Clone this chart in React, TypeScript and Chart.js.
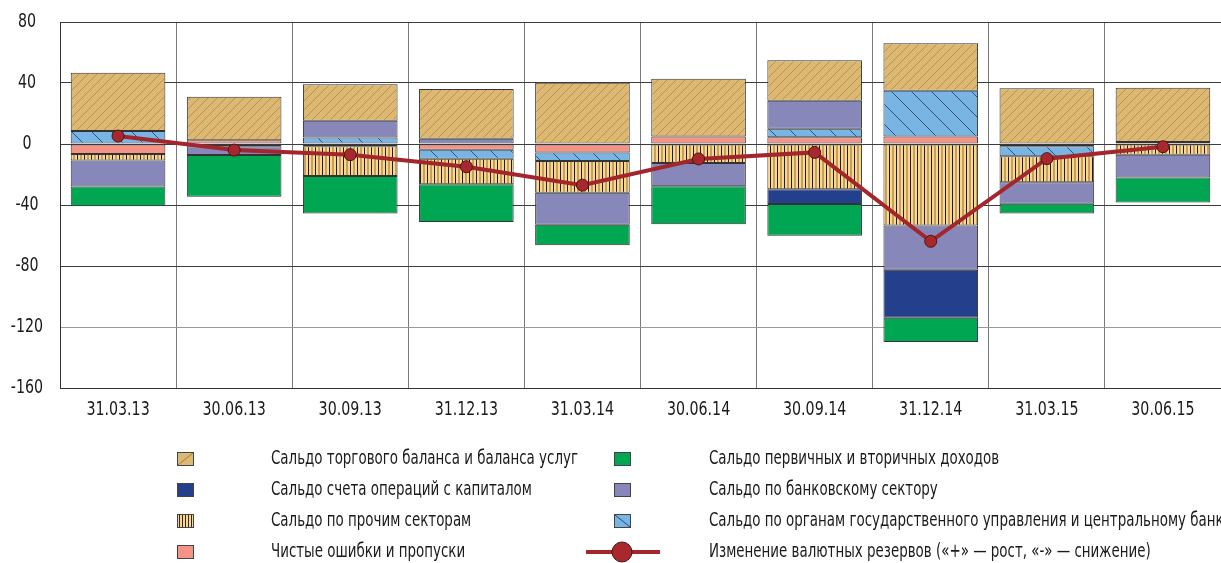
import { useEffect, useRef } from 'react';
import { Chart, registerables } from 'chart.js';

Chart.register(...registerables);

const categories = ['31.03.13', '30.06.13', '30.09.13', '31.12.13', '31.03.14', '30.06.14', '30.09.14', '31.12.14', '31.03.15', '30.06.15'];

// stacking order from zero outward follows dataset order
const errorsOmissions = [-6.5, 2.5, -1.5, -3.7, -5.6, 5.0, 4.4, 5.0, -1.5, 1.3];
const govCentralBank = [8.5, null, 4.2, -5.9, -5.5, null, 5.6, 29.9, -6.6, null];
const otherSectors = [-4.4, -1.5, -19.5, -16.8, -20.8, -12.5, -29.7, -53.5, -16.9, -7.0];
const bankingSector = [-17.0, -5.7, 11.1, 3.5, -21.0, -15.2, 18.3, -28.9, -14.1, -15.0];
const capitalAccount = [null, null, null, null, null, null, -9.6, -31.5, null, null];
const incomeBalance = [-13.0, -27.4, -24.6, -24.7, -13.5, -25.0, -20.8, -16.0, -6.5, -16.4];
const tradeBalance = [38.3, 28.5, 23.8, 32.6, 40.2, 37.8, 26.7, 31.1, 36.5, 35.6];
const reserveChange = [5.2, -4.0, -7.0, -14.9, -27.0, -9.8, -5.5, -63.8, -9.6, -1.8];

const yTicks = [80, 40, 0, -40, -80, -120, -160];

const labelTrade = 'Сальдо торгового баланса и баланса услуг';
const labelCapital = 'Сальдо счета операций с капиталом';
const labelOther = 'Сальдо по прочим секторам';
const labelErrors = 'Чистые ошибки и пропуски';
const labelIncome = 'Сальдо первичных и вторичных доходов';
const labelBank = 'Сальдо по банковскому сектору';
const labelGov = 'Сальдо по органам государственного управления и центральному банку';
const labelReserve = 'Изменение валютных резервов («+» — рост, «-» — снижение)';

const FONT = '"DejaVu Sans Condensed", "Liberation Sans Narrow", sans-serif';

const C_TRADE = '#dcb873';
const C_CAPITAL = '#243f8c';
const C_OTHER = '#fbd68b';
const C_ERRORS = '#f59486';
const C_INCOME = '#00a651';
const C_BANK = '#8787ba';
const C_GOV = '#78b5e4';
const C_LINE = '#a3262d';
const C_BORDER = '#333333';
const C_TEXT = '#1a1a1a';

function tile(w: number, h: number, draw: (c: CanvasRenderingContext2D) => void) {
  const cv = document.createElement('canvas');
  cv.width = w;
  cv.height = h;
  const c = cv.getContext('2d')!;
  draw(c);
  return cv;
}

function makePatterns(ctx: CanvasRenderingContext2D) {
  const trade = tile(9, 9, (c) => {
    c.fillStyle = C_TRADE;
    c.fillRect(0, 0, 9, 9);
    c.strokeStyle = 'rgba(150,110,50,0.5)';
    c.lineWidth = 1;
    c.beginPath();
    c.moveTo(-1, 10);
    c.lineTo(10, -1);
    c.stroke();
  });
  const other = tile(7, 4, (c) => {
    c.fillStyle = C_OTHER;
    c.fillRect(0, 0, 7, 4);
    c.fillStyle = '#1e1e1e';
    c.fillRect(0, 0, 1, 4);
    c.fillStyle = '#8a6a34';
    c.fillRect(3.5, 0, 1, 4);
  });
  const gov = tile(20, 20, (c) => {
    c.fillStyle = C_GOV;
    c.fillRect(0, 0, 20, 20);
    c.strokeStyle = '#2c4663';
    c.lineWidth = 0.9;
    c.beginPath();
    c.moveTo(-1, -1);
    c.lineTo(21, 21);
    c.stroke();
  });
  return {
    trade: ctx.createPattern(trade, 'repeat')!,
    other: ctx.createPattern(other, 'repeat')!,
    gov: ctx.createPattern(gov, 'repeat')!,
  };
}

function narrowText(c: CanvasRenderingContext2D, text: string, x: number, y: number, sx: number) {
  c.save();
  c.translate(x, y);
  c.scale(sx, 1);
  c.fillText(text, 0, 0);
  c.restore();
}

export default function App() {
  const ref = useRef<HTMLCanvasElement | null>(null);

  useEffect(() => {
    const canvas = ref.current!;
    const ctx = canvas.getContext('2d')!;
    const pats = makePatterns(ctx);

    const tickPlugin = {
      id: 'condensedTicks',
      afterDraw(chart: any) {
        const c: CanvasRenderingContext2D = chart.ctx;
        const xs = chart.scales.x;
        const ys = chart.scales.y;
        c.save();
        c.fillStyle = C_TEXT;
        c.font = `20px ${FONT}`;
        c.textBaseline = 'middle';
        c.textAlign = 'center';
        xs.ticks.forEach((t: any, i: number) => {
          narrowText(c, String(xs.getLabelForValue(t.value)), xs.getPixelForTick(i), 410, 0.79);
        });
        ys.ticks.forEach((t: any) => {
          narrowText(c, String(t.value), 27, ys.getPixelForValue(t.value), 0.79);
        });
        c.restore();
      },
    };

    const legendPlugin = {
      id: 'customLegend',
      afterDraw(chart: any) {
        const c: CanvasRenderingContext2D = chart.ctx;
        const rows = [459, 490, 521, 552];
        const col1Box = 177;
        const col1Text = 271;
        const col2Box = 614;
        const col2Text = 709;
        const bw = 17;
        const bh = 14;
        c.save();
        const box = (x: number, y: number, fill: any, extra?: (x: number, y: number) => void) => {
          c.fillStyle = fill;
          c.fillRect(x, y - bh / 2, bw, bh);
          if (extra) extra(x, y - bh / 2);
          c.strokeStyle = '#444';
          c.lineWidth = 1;
          c.strokeRect(x + 0.5, y - bh / 2 + 0.5, bw - 1, bh - 1);
        };
        box(col1Box, rows[0], C_TRADE, (x, y) => {
          c.strokeStyle = 'rgba(140,100,40,0.7)';
          c.lineWidth = 1;
          c.beginPath();
          c.moveTo(x + 1, y + bh - 1);
          c.lineTo(x + bw - 1, y + 1);
          c.stroke();
        });
        box(col1Box, rows[1], C_CAPITAL);
        box(col1Box, rows[2], C_OTHER, (x, y) => {
          c.fillStyle = '#2a2a2a';
          for (let i = 2; i < bw - 1; i += 3) c.fillRect(x + i, y, 1, bh);
        });
        box(col1Box, rows[3], C_ERRORS);
        box(col2Box, rows[0], C_INCOME);
        box(col2Box, rows[1], C_BANK);
        box(col2Box, rows[2], C_GOV, (x, y) => {
          c.strokeStyle = '#2c4663';
          c.lineWidth = 1;
          c.beginPath();
          c.moveTo(x + 1, y + 1);
          c.lineTo(x + bw - 1, y + bh - 1);
          c.stroke();
        });
        // line marker
        c.strokeStyle = C_LINE;
        c.lineWidth = 4;
        c.beginPath();
        c.moveTo(586, rows[3]);
        c.lineTo(660, rows[3]);
        c.stroke();
        c.beginPath();
        c.arc(622, rows[3], 10, 0, Math.PI * 2);
        c.fillStyle = '#a8282e';
        c.fill();
        c.lineWidth = 1;
        c.strokeStyle = '#4a1515';
        c.stroke();

        c.fillStyle = C_TEXT;
        c.font = `19px ${FONT}`;
        c.textBaseline = 'middle';
        c.textAlign = 'left';
        const sx = 0.785;
        narrowText(c, labelTrade, col1Text, rows[0], sx);
        narrowText(c, labelCapital, col1Text, rows[1], sx);
        narrowText(c, labelOther, col1Text, rows[2], sx);
        narrowText(c, labelErrors, col1Text, rows[3], sx);
        narrowText(c, labelIncome, col2Text, rows[0], sx);
        narrowText(c, labelBank, col2Text, rows[1], sx);
        narrowText(c, labelGov, col2Text, rows[2], sx);
        narrowText(c, labelReserve, col2Text, rows[3], sx);
        c.restore();
      },
    };

    const barBase = {
      type: 'bar' as const,
      borderColor: C_BORDER,
      borderWidth: 1,
      borderSkipped: false,
      barPercentage: 0.815,
      categoryPercentage: 1,
      order: 1,
    };

    const chart = new Chart(ctx, {
      type: 'bar',
      data: {
        labels: categories,
        datasets: [
          {
            type: 'line',
            label: labelReserve,
            data: reserveChange,
            borderColor: C_LINE,
            borderWidth: 4,
            pointRadius: 6,
            pointBackgroundColor: '#a8282e',
            pointBorderColor: '#4a1515',
            pointBorderWidth: 1,
            tension: 0,
            order: 0,
          } as any,
          { ...barBase, label: labelErrors, data: errorsOmissions, backgroundColor: C_ERRORS },
          { ...barBase, label: labelGov, data: govCentralBank, backgroundColor: pats.gov },
          { ...barBase, label: labelOther, data: otherSectors, backgroundColor: pats.other },
          { ...barBase, label: labelBank, data: bankingSector, backgroundColor: C_BANK },
          { ...barBase, label: labelCapital, data: capitalAccount, backgroundColor: C_CAPITAL },
          { ...barBase, label: labelIncome, data: incomeBalance, backgroundColor: C_INCOME },
          { ...barBase, label: labelTrade, data: tradeBalance, backgroundColor: pats.trade },
        ] as any,
      },
      options: {
        responsive: false,
        animation: false,
        layout: { padding: { top: 22, right: 2, left: 0, bottom: 0 } },
        plugins: {
          legend: { display: false },
          tooltip: { enabled: false },
        },
        scales: {
          x: {
            stacked: true,
            offset: true,
            grid: { offset: true, color: '#7a7a7a', drawTicks: false, lineWidth: 1 },
            border: { color: C_BORDER, width: 1 },
            ticks: { display: false },
            afterFit: (s: any) => {
              s.height = 175;
            },
          },
          y: {
            stacked: true,
            min: -160,
            max: 80,
            afterBuildTicks: (s: any) => {
              s.ticks = yTicks.map((v) => ({ value: v }));
            },
            ticks: { display: false },
            grid: {
              drawTicks: false,
              color: (c: any) => (c.tick && c.tick.value === -120 ? '#9a9a9a' : '#3c3c3c'),
            },
            border: { color: C_BORDER, width: 1 },
            afterFit: (s: any) => {
              s.width = 60;
            },
          },
        },
      } as any,
      plugins: [tickPlugin, legendPlugin],
    });

    return () => chart.destroy();
  }, []);

  return (
    <div style={{ position: 'fixed', left: 0, top: 0, width: 1228, height: 563, overflow: 'hidden', background: '#fff' }}>
      <canvas ref={ref} width={1228} height={563} style={{ width: 1228, height: 563, display: 'block' }} />
    </div>
  );
}
